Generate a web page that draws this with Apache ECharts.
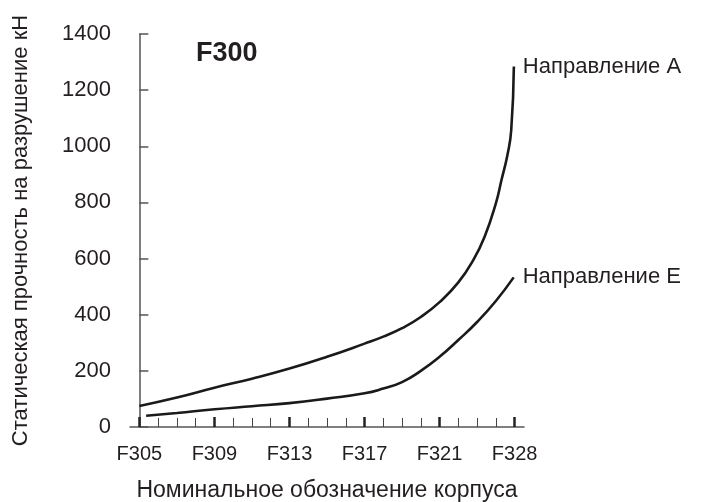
<!DOCTYPE html>
<html><head><meta charset="utf-8">
<script src="https://cdn.jsdelivr.net/npm/echarts@6/dist/echarts.min.js"></script>
<style>html,body{margin:0;padding:0;background:#fff}#c{width:705px;height:502px}</style>
</head><body><div id="c"></div>
<script>
// x categories (21 slots, labelled every 4th)
const categories = ['F305','F306','F307','F308','F309','F310','F311','F312','F313','F314','F315','F316','F317','F318','F319','F320','F321','F322','F324','F326','F328'];
const tickLabels = ['F305','F309','F313','F317','F321','F328'];
// Curve A (position along category axis, value kN)
const aPos = [0, 2, 4, 6, 8, 10, 12, 13, 14, 15, 16, 17, 17.8, 18.4, 19.0, 19.3, 19.62, 19.82, 19.96];
const aVal = [75, 105, 140, 172, 208, 250, 297, 322, 352, 392, 445, 515, 595, 678, 797, 880, 970, 1058, 1284];
// Curve E
const ePos = [0.36, 2, 4, 6, 8, 10, 12, 13, 14, 15, 16, 17, 18, 19, 19.95];
const eVal = [40, 50, 63, 74, 85, 101, 120, 137, 160, 200, 250, 310, 374, 449, 533];
const seriesNames = ['Направление А', 'Направление Е'];
const yTicks = [0, 200, 400, 600, 800, 1000, 1200, 1400];

const FONT = 'Liberation Sans, Arial, sans-serif';
const TXT = '#231f20';
const pairs = (xs, ys) => xs.map((x, i) => [x, ys[i]]);

const chart = echarts.init(document.getElementById('c'), null, {renderer: 'canvas'});
const lineCommon = {
  type: 'line', xAxisIndex: 1, yAxisIndex: 0, smooth: 0.5,
  showSymbol: false, symbol: 'none', clip: false,
  lineStyle: {color: '#1a1a1a', width: 2.6},
  emphasis: {disabled: true}
};
const gridBox = {left: 130, top: 34, width: 394, height: 393, containLabel: false, outerBoundsMode: 'none'};
chart.setOption({
  animation: false,
  backgroundColor: '#fff',
  title: {text: 'F300', left: 196, top: 40, padding: 0,
    textStyle: {fontSize: 27, lineHeight: 28, fontWeight: 'bold', color: TXT, fontFamily: FONT}},
  grid: [Object.assign({}, gridBox), Object.assign({}, gridBox)],
  xAxis: [
    {type: 'category', gridIndex: 0, data: categories, boundaryGap: true, position: 'bottom',
     axisLine: {show: true, lineStyle: {color: '#555', width: 1.5}},
     axisTick: {show: true, inside: true, length: 9, alignWithLabel: true, interval: 0,
       lineStyle: {color: '#444', width: 1}},
     axisLabel: {interval: (i) => i % 4 === 0, margin: 17, fontSize: 20, color: TXT, fontFamily: FONT,
       formatter: (v, i) => tickLabels[Math.round(i / 4)] || v},
     splitLine: {show: false},
     name: 'Номинальное обозначение корпуса', nameLocation: 'middle', nameGap: 52,
     nameTextStyle: {fontSize: 23, color: TXT, fontFamily: FONT}},
    {type: 'value', gridIndex: 0, min: -0.5, max: 20.5, show: false, position: 'top'},
    {type: 'category', gridIndex: 1, data: categories, boundaryGap: true, position: 'bottom',
     axisLine: {show: false}, axisLabel: {show: false}, splitLine: {show: false},
     axisTick: {show: true, inside: true, length: 10, alignWithLabel: true,
       interval: (i) => i % 4 === 0, lineStyle: {color: '#222', width: 2.5}}}
  ],
  yAxis: [
    {type: 'value', gridIndex: 0, min: 0, max: 1400, interval: 200,
     axisLine: {show: true, lineStyle: {color: '#555', width: 1.5}},
     axisTick: {show: true, inside: true, length: 9, lineStyle: {color: '#555', width: 1.5}},
     splitLine: {show: false},
     axisLabel: {margin: 19, fontSize: 22, color: TXT, fontFamily: FONT,
       formatter: (v) => yTicks.includes(v) ? String(v) : ''},
     name: 'Статическая прочность на разрушение кН', nameLocation: 'middle', nameGap: 98,
     nameRotate: 90, nameTextStyle: {fontSize: 22, color: TXT, fontFamily: FONT}},
    {type: 'value', gridIndex: 1, min: 0, max: 1400, show: false}
  ],
  series: [
    Object.assign({}, lineCommon, {name: seriesNames[0], data: pairs(aPos, aVal),
      endLabel: {show: true, formatter: seriesNames[0], distance: 9, fontSize: 22, color: TXT, fontFamily: FONT}}),
    Object.assign({}, lineCommon, {name: seriesNames[1], data: pairs(ePos, eVal),
      endLabel: {show: true, formatter: seriesNames[1], distance: 9, fontSize: 22, color: TXT, fontFamily: FONT}})
  ]
});
</script></body></html>
